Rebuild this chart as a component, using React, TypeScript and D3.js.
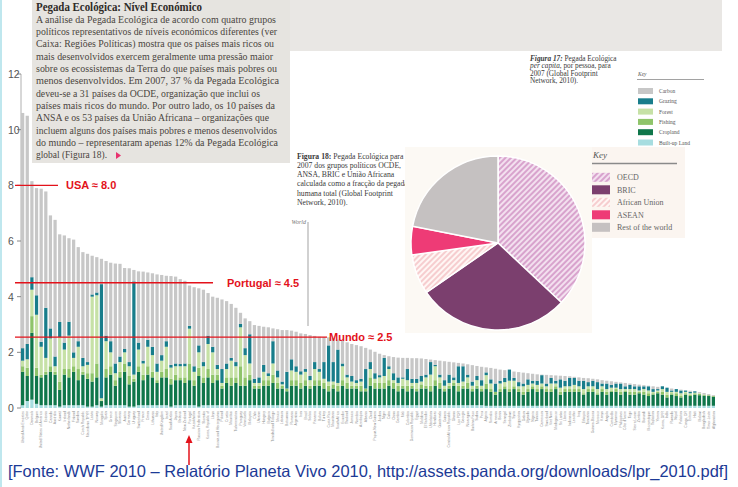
import React from 'react';
import * as d3 from 'd3';

const countries = [
  'United Arab Emirates','Qatar','Denmark','Belgium','United States of America','Estonia','Canada','Australia','Kuwait','Ireland',
  'Netherlands','Finland','Sweden','Czech Republic','Macedonia TFYR','Latvia','Norway','Mongolia','Spain','Greece',
  'Singapore','Slovenia','Austria','Germany','Uruguay','Switzerland','France','Oman','Lithuania','Italy',
  'United Kingdom','Israel','Saudi Arabia','Japan','Belarus','New Zealand','Portugal','Kazakhstan','Russian Federation','Slovakia',
  'Korea, Republic of','Libya','Bosnia and Herzegovina','Poland','Croatia','Mauritius','Turkmenistan','Paraguay','Venezuela','Malaysia',
  'Chile','Ukraine','Hungary','Bulgaria','Trinidad and Tobago','Mexico','Lebanon','Botswana','Romania','Argentina',
  'Iran','Brazil','Serbia','Panama','Bolivia','Turkey','Costa Rica','Mauritania','South Africa','Ecuador',
  'Thailand','Jamaica','Namibia','Azerbaijan','Albania','Chad','Papua New Guinea','Jordan','Niger','Cuba',
  'China','Gambia','Mali','Colombia','Dominican Republic','Egypt','Moldova','El Salvador','Uzbekistan','Honduras',
  'Guatemala','Guinea','Central African Republic','Ghana','Lao PDR','Georgia','Nicaragua','Burkina Faso','Sudan','Peru',
  'Algeria','Somalia','Armenia','Benin','Senegal','Zimbabwe','Syria','Kyrgyzstan','Gabon','Uganda',
  'Nigeria','Tunisia','Cameroon','Swaziland','Viet Nam','Madagascar','Sri Lanka','Liberia','Indonesia','Lesotho',
  'Iraq','Ethiopia','Tanzania','Guinea-Bissau','Morocco','Kenya','Angola','Cambodia','Myanmar','Philippines',
  "Côte d'Ivoire",'Togo','Sierra Leone','Zambia','Burundi','Mozambique','Tajikistan','Yemen','Korea, DPR','India',
  'Rwanda','Nepal','Pakistan','Congo, DR','Eritrea','Haiti','Malawi','Bangladesh','Timor-Leste','Afghanistan'
];

const totalFootprint = [
  10.6, 10.5, 8.15, 7.9, 7.88, 7.78, 6.92, 6.76, 6.24, 6.2,
  6.1, 6.05, 5.78, 5.6, 5.54, 5.47, 5.42, 5.36, 5.28, 5.22,
  5.19, 5.18, 5.03, 5.02, 4.96, 4.91, 4.9, 4.87, 4.84, 4.8,
  4.78, 4.75, 4.74, 4.72, 4.63, 4.57, 4.4, 4.34, 4.3, 4.25,
  4.13, 4.0, 3.96, 3.9, 3.84, 3.74, 3.6, 3.42, 3.22, 3.12,
  2.98, 2.95, 2.92, 2.9, 2.86, 2.83, 2.8, 2.8, 2.78, 2.74,
  2.68, 2.66, 2.62, 2.59, 2.56, 2.55, 2.54, 2.5, 2.46, 2.42,
  2.36, 2.3, 2.26, 2.22, 2.16, 2.1, 2.02, 1.95, 1.9, 1.86,
  1.83, 1.81, 1.8, 1.8, 1.79, 1.79, 1.78, 1.76, 1.74, 1.72,
  1.7, 1.68, 1.66, 1.64, 1.62, 1.6, 1.57, 1.54, 1.51, 1.48,
  1.46, 1.44, 1.41, 1.38, 1.36, 1.34, 1.31, 1.29, 1.27, 1.25,
  1.23, 1.21, 1.2, 1.19, 1.18, 1.17, 1.16, 1.15, 1.14, 1.12,
  1.1, 1.08, 1.07, 1.05, 1.03, 1.0, 0.98, 0.96, 0.94, 0.92,
  0.9, 0.88, 0.86, 0.84, 0.82, 0.8, 0.78, 0.76, 0.74, 0.72,
  0.7, 0.68, 0.66, 0.64, 0.62, 0.6, 0.57, 0.54, 0.5, 0.46
];

const builtUp = [
  0.1, 0.25, 0.3, 0.15, 0.1, 0.1, 0.1, 0.1, 0.05, 0.1,
  0.1, 0.1, 0.1, 0.1, 0.05, 0.05, 0.1, 0.05, 0.1, 0.1,
  0.1, 0.1, 0.1, 0.05, 0.05, 0.1, 0.1, 0.1, 0.1, 0.1,
  0.1, 0.1, 0.05, 0.1, 0.1, 0.1, 0.1, 0.1, 0.05, 0.1,
  0.1, 0.1, 0.1, 0.1, 0.1, 0.1, 0.1, 0.1, 0.1, 0.1,
  0.1, 0.1, 0.1, 0.1, 0.1, 0.1, 0.1, 0.1, 0.1, 0.1,
  0.1, 0.1, 0.1, 0.1, 0.1, 0.1, 0.1, 0.1, 0.1, 0.1,
  0.1, 0.1, 0.1, 0.1, 0.1, 0.1, 0.1, 0.1, 0.1, 0.1,
  0.1, 0.1, 0.1, 0.1, 0.1, 0.1, 0.1, 0.1, 0.1, 0.1,
  0.1, 0.1, 0.1, 0.1, 0.1, 0.1, 0.1, 0.1, 0.1, 0.1,
  0.08, 0.08, 0.08, 0.08, 0.08, 0.08, 0.08, 0.08, 0.08, 0.08,
  0.08, 0.08, 0.08, 0.08, 0.08, 0.08, 0.08, 0.08, 0.08, 0.08,
  0.08, 0.08, 0.08, 0.08, 0.08, 0.08, 0.08, 0.08, 0.08, 0.08,
  0.08, 0.08, 0.08, 0.08, 0.08, 0.08, 0.08, 0.08, 0.08, 0.08,
  0.08, 0.08, 0.08, 0.08, 0.08, 0.08, 0.08, 0.08, 0.08, 0.08
];

const cropland = [
  1.2, 0.9, 2.4, 1.0, 1.0, 1.1, 1.2, 1.1, 0.6, 1.1,
  1.0, 1.2, 0.9, 1.1, 1.0, 0.9, 1.0, 0.2, 1.0, 1.1,
  0.7, 1.0, 1.2, 0.8, 0.9, 1.2, 0.9, 1.1, 1.0, 0.8,
  1.0, 1.0, 0.8, 0.9, 0.9, 0.8, 0.9, 0.7, 1.1, 0.8,
  1.0, 0.8, 0.9, 0.6, 0.8, 0.7, 0.8, 0.7, 0.7, 0.9,
  0.6, 0.6, 0.7, 0.7, 0.8, 0.6, 0.6, 0.5, 0.7, 0.7,
  0.6, 0.7, 0.6, 0.7, 0.7, 0.6, 0.5, 0.6, 0.5, 0.7,
  0.6, 0.6, 0.6, 0.5, 0.5, 0.7, 0.6, 0.6, 0.6, 0.7,
  0.6, 0.5, 0.6, 0.5, 0.6, 0.5, 0.6, 0.6, 0.5, 0.7,
  0.6, 0.5, 0.6, 0.7, 0.5, 0.6, 0.6, 0.5, 0.6, 0.5,
  0.6, 0.5, 0.4, 0.5, 0.6, 0.5, 0.6, 0.5, 0.4, 0.5,
  0.6, 0.5, 0.6, 0.5, 0.5, 0.6, 0.4, 0.5, 0.5, 0.5,
  0.5, 0.4, 0.5, 0.5, 0.4, 0.5, 0.4, 0.5, 0.5, 0.4,
  0.5, 0.4, 0.4, 0.45, 0.4, 0.35, 0.4, 0.45, 0.4, 0.3,
  0.4, 0.35, 0.3, 0.4, 0.35, 0.4, 0.38, 0.36, 0.35, 0.32
];

const fishing = [
  0.2, 0.3, 0.6, 0.3, 0.1, 0.1, 0.2, 0.1, 0.3, 0.2,
  0.3, 0.2, 0.4, 0.1, 0.2, 0.3, 0.5, 0.0, 0.3, 0.3,
  0.2, 0.2, 0.3, 0.3, 0.1, 0.2, 0.2, 0.3, 0.2, 0.1,
  0.2, 0.3, 0.2, 0.2, 0.1, 0.2, 0.6, 0.2, 0.3, 0.2,
  0.3, 0.3, 0.2, 0.1, 0.2, 0.3, 0.2, 0.7, 0.3, 0.2,
  0.1, 0.1, 0.2, 0.2, 0.3, 0.2, 0.1, 0.1, 0.2, 0.2,
  0.2, 0.2, 0.1, 0.2, 0.2, 0.2, 0.2, 0.15, 0.2, 0.2,
  0.2, 0.1, 0.1, 0.2, 0.1, 0.3, 0.2, 0.2, 0.2, 0.2,
  0.2, 0.2, 0.1, 0.2, 0.1, 0.1, 0.15, 0.1, 0.2, 0.2,
  0.2, 0.1, 0.1, 0.1, 0.2, 0.1, 0.2, 0.1, 0.1, 0.1,
  0.2, 0.1, 0.1, 0.1, 0.1, 0.1, 0.1, 0.1, 0.1, 0.1,
  0.1, 0.1, 0.1, 0.1, 0.1, 0.1, 0.1, 0.1, 0.1, 0.1,
  0.1, 0.05, 0.1, 0.1, 0.05, 0.1, 0.1, 0.05, 0.1, 0.1,
  0.05, 0.1, 0.1, 0.05, 0.1, 0.1, 0.05, 0.05, 0.1, 0.1,
  0.05, 0.1, 0.05, 0.05, 0.05, 0.05, 0.05, 0.04, 0.03, 0.03
];

const forest = [
  0.2, 0.3, 0.95, 1.9, 1.0, 0.5, 1.0, 0.2, 1.6, 0.7,
  1.2, 0.3, 0.8, 0.2, 0.3, 2.75, 2.45, 0.1, 1.0, 0.5,
  0.25, 0.35, 0.4, 0.35, 0.15, 0.6, 0.4, 0.7, 0.6, 0.3,
  0.4, 0.8, 0.4, 0.3, 0.4, 0.4, 1.25, 0.3, 0.55, 0.4,
  0.9, 0.8, 0.2, 0.1, 0.3, 0.6, 0.4, 1.4, 0.8, 0.4,
  0.1, 0.1, 0.3, 0.15, 0.4, 0.2, 0.05, 0.0, 0.35, 0.3,
  0.3, 0.3, 0.2, 0.4, 0.3, 0.15, 0.15, 0.1, 0.1, 0.5,
  0.2, 0.15, 0.1, 0.15, 0.0, 0.3, 0.15, 0.2, 0.25, 0.4,
  0.1, 0.1, 0.25, 0.2, 0.1, 0.2, 0.1, 0.3, 0.4, 0.5,
  0.2, 0.1, 0.1, 0.1, 0.1, 0.15, 0.2, 0.1, 0.2, 0.1,
  0.3, 0.2, 0.0, 0.2, 0.15, 0.3, 0.2, 0.1, 0.2, 0.15,
  0.1, 0.15, 0.1, 0.1, 0.2, 0.1, 0.15, 0.1, 0.1, 0.15,
  0.1, 0.15, 0.1, 0.1, 0.15, 0.1, 0.1, 0.1, 0.05, 0.1,
  0.05, 0.1, 0.1, 0.05, 0.1, 0.1, 0.05, 0.05, 0.1, 0.1,
  0.05, 0.05, 0.1, 0.05, 0.05, 0.02, 0.02, 0.0, 0.0, 0.0
];

const grazing = [
  0.45, 0.55, 0.45, 0.7, 0.18, 1.8, 0.36, 0.35, 0.54, 0.25,
  0.5, 0.2, 0.2, 0.3, 0.1, 0.08, 0.1, 4.1, 0.2, 0.4,
  0.35, 0.2, 0.12, 0.15, 3.35, 0.25, 0.1, 0.25, 0.3, 0.3,
  0.2, 0.2, 0.1, 0.1, 0.08, 0.1, 0.1, 0.2, 0.25, 0.15,
  0.3, 0.2, 0.15, 0.5, 0.2, 0.1, 0.15, 0.12, 0.25, 1.05,
  0.15, 0.2, 0.25, 0.1, 0.8, 0.25, 0.1, 0.6, 0.4, 0.2,
  0.12, 0.1, 0.15, 0.25, 0.1, 0.6, 1.3, 0.7, 1.2, 0.1,
  0.1, 0.2, 0.1, 0.1, 0.7, 0.25, 0.2, 0.08, 0.65, 0.1,
  0.25, 0.2, 0.05, 0.4, 0.15, 0.15, 0.2, 0.1, 0.45, 0.05,
  0.1, 0.2, 0.3, 0.1, 0.6, 0.55, 0.1, 0.15, 0.15, 0.2,
  0.1, 0.15, 0.3, 0.1, 0.15, 0.4, 0.1, 0.15, 0.1, 0.2,
  0.1, 0.15, 0.3, 0.1, 0.2, 0.1, 0.3, 0.2, 0.3, 0.25,
  0.2, 0.3, 0.15, 0.2, 0.25, 0.1, 0.2, 0.1, 0.15, 0.2,
  0.1, 0.15, 0.1, 0.15, 0.1, 0.15, 0.1, 0.05, 0.1, 0.15,
  0.05, 0.1, 0.1, 0.05, 0.05, 0.05, 0.0, 0.0, 0.0, 0.0
];

const yTicks = [0, 2, 4, 6, 8, 10, 12];

const layerKeys = ['builtUp', 'cropland', 'fishing', 'forest', 'grazing', 'carbon'];
const layerColors: Record<string, string> = {
  builtUp: '#a7dde0',
  cropland: '#0f764a',
  fishing: '#8fc46a',
  forest: '#c6e1a6',
  grazing: '#187d8b',
  carbon: '#c7c7c7',
};
const keyLabels17 = ['Carbon', 'Grazing', 'Forest', 'Fishing', 'Cropland', 'Built-up Land'];
const keyOrder17 = ['carbon', 'grazing', 'forest', 'fishing', 'cropland', 'builtUp'];

const pieGroups = ['OECD', 'BRIC', 'African Union', 'ASEAN', 'Rest of the world'];
const pieShares = [37, 28.4, 7.4, 5.3, 21.9];
const pieFills = ['url(#hatchOecd)', '#7b3f6e', 'url(#hatchAU)', '#ee3b76', '#c5c1c1'];

const refLabels = ['USA ≈ 8.0', 'Portugal ≈ 4.5', 'Mundo ≈ 2.5'];
const refValues = [8.0, 4.5, 2.55];

const introTitle = 'Pegada Ecológica: Nível Económico';
const introLines = [
  'A análise da Pegada Ecológica de acordo com quatro grupos',
  'políticos representativos de níveis económicos diferentes (ver',
  'Caixa: Regiões Políticas) mostra que os países mais ricos ou',
  'mais desenvolvidos exercem geralmente uma pressão maior',
  'sobre os ecossistemas da Terra do que países mais pobres ou',
  'menos desenvolvidos. Em 2007, 37 % da Pegada Ecológica',
  'deveu-se a 31 países da OCDE, organização que inclui os',
  'países mais ricos do mundo. Por outro lado, os 10 países da',
  'ANSA e os 53 países da União Africana – organizações que',
  'incluem alguns dos países mais pobres e menos desenvolvidos',
  'do mundo – representaram apenas 12% da Pegada Ecológica',
  'global (Figura 18).',
];

const fig18Lines = [
  'ANSA, BRIC e União Africana',
  'calculada como a fracção da pegada',
  'humana total (Global Footprint',
  'Network, 2010).',
];

const sourceText = '[Fonte: WWF 2010 – Relatório Planeta Vivo 2010, http://assets.panda.org/downloads/lpr_2010.pdf]';

export default function App() {
  const rows = countries.map((c, i) => {
    const others = builtUp[i] + cropland[i] + fishing[i] + forest[i] + grazing[i];
    return {
      country: c,
      builtUp: builtUp[i],
      cropland: cropland[i],
      fishing: fishing[i],
      forest: forest[i],
      grazing: grazing[i],
      carbon: Math.max(0, totalFootprint[i] - others),
    };
  });

  const x = d3.scaleBand<string>().domain(countries).range([21, 715]).paddingInner(0.3).paddingOuter(0);
  const y = d3.scaleLinear().domain([0, 12]).range([408, 74]);
  const series = d3.stack<any>().keys(layerKeys)(rows);

  const pie = d3.pie<number>().sort(null).value((d) => d)(pieShares);
  const arc = d3.arc<d3.PieArcDatum<number>>().innerRadius(0).outerRadius(87);

  const introWidths = [240, 241, 238, 237, 241, 243, 224, 239, 233, 241, 242, 71];
  const serif = "'Liberation Serif', 'DejaVu Serif', serif";
  const sans = "'Liberation Sans', Arial, sans-serif";
  const refLineEnds = [58, 213, 327];
  const refTextX = [66, 227, 329];
  const worldX = 308;

  return (
    <svg width={738} height={487} style={{ position: 'absolute', left: 0, top: 0, background: '#fff' }}>
      <defs>
        <pattern id="hatchOecd" patternUnits="userSpaceOnUse" width="4" height="4" patternTransform="rotate(45)">
          <rect width="4" height="4" fill="#f3e0ef" />
          <rect width="2" height="4" fill="#d8a3cd" />
        </pattern>
        <pattern id="hatchAU" patternUnits="userSpaceOnUse" width="4" height="4" patternTransform="rotate(45)">
          <rect width="4" height="4" fill="#fff6f4" />
          <rect width="2" height="4" fill="#f6cdcf" />
        </pattern>
      </defs>
      <rect x={0} y={0} width={738} height={487} fill="#fff" />
      <rect x={0} y={0} width={2} height={487} fill="#bfe7ee" />

      {/* grey text box and top band */}
      <rect x={32} y={0} width={258} height={163} fill="#e6e4e0" />
      <rect x={290} y={0} width={432} height={51} fill="#e9e7e4" />
      <text x={36} y={11} fontFamily={serif} fontSize={11.5} fontWeight="bold" fill="#2e2b28" textLength={166} lengthAdjust="spacingAndGlyphs">{introTitle}</text>
      {introLines.map((t, i) => (
        <text key={i} x={36} y={22.8 + i * 12.3} fontFamily={serif} fontSize={10.5} fill="#4a443e" textLength={introWidths[i]} lengthAdjust="spacingAndGlyphs">{t}</text>
      ))}
      <path d="M116,152 L121,155.5 L116,159 Z" fill="#e8336f" />

      {/* y axis */}
      <line x1={21} x2={21} y1={y(12)} y2={y(0)} stroke="#b0b0b0" strokeWidth={1} />
      {yTicks.map((t) => (
        <g key={t}>
          <line x1={17} x2={21} y1={y(t)} y2={y(t)} stroke="#888" strokeWidth={1} />
          <text x={8} y={y(t) + 4} fontFamily={sans} fontSize={10.5} fill="#555">{t}</text>
        </g>
      ))}

      {/* stacked bars */}
      {series.map((s) => (
        <g key={s.key} fill={layerColors[s.key]}>
          {s.map((d, i) => (
            <rect key={i} x={x(countries[i])} width={x.bandwidth()} y={y(d[1])} height={Math.max(0, y(d[0]) - y(d[1]))} />
          ))}
        </g>
      ))}

      {/* country labels */}
      {countries.map((c) => (
        <text key={c} transform={`translate(${(x(c) as number) + x.bandwidth() / 2 + 1.2},411) rotate(-90)`} textAnchor="end" fontFamily={sans} fontSize={3.4} fill="#8f8f8f">{c}</text>
      ))}

      {/* World marker */}
      <line x1={worldX} x2={worldX} y1={222} y2={y(2.95)} stroke="#c2c2c2" strokeWidth={1.5} />
      <text x={306} y={224} textAnchor="end" fontFamily={serif} fontStyle="italic" fontSize={6} fill="#777">World</text>

      {/* Figure 18 caption */}
      <text x={297} y={158.5} fontFamily={serif} fontSize={7.7} fill="#3a3a3a">
        <tspan fontWeight="bold">Figura 18:</tspan> Pegada Ecológica para
      </text>
      <text x={297} y={167.8} fontFamily={serif} fontSize={7.7} fill="#3a3a3a">2007 dos grupos políticos OCDE,</text>
      {fig18Lines.map((t, i) => (
        <text key={i} x={297} y={177.1 + i * 9.3} fontFamily={serif} fontSize={7.7} fill="#3a3a3a">{t}</text>
      ))}

      {/* pie panel */}
      <rect x={405} y={147} width={187} height={186} fill="#fcf9f4" />
      <rect x={592} y={147} width={93} height={91} fill="#fbf5f0" />
      <g transform="translate(498,243)">
        {pie.map((p, i) => (
          <path key={i} d={arc(p) as string} fill={pieFills[i]} stroke="#fff" strokeWidth={1.5} />
        ))}
      </g>
      <text x={593} y={158} fontFamily={serif} fontStyle="italic" fontSize={9} fill="#555">Key</text>
      <line x1={592} x2={677} y1={163.5} y2={163.5} stroke="#8a8a8a" strokeWidth={1.5} />
      {pieGroups.map((g, i) => (
        <g key={g}>
          <rect x={592} y={172.8 + i * 12.5} width={18} height={9} fill={pieFills[i]} />
          <text x={617} y={180.3 + i * 12.5} fontFamily={serif} fontSize={8} fill="#666">{g}</text>
        </g>
      ))}

      {/* Figure 17 caption + key */}
      <text x={530} y={60.5} fontFamily={serif} fontSize={7.3} fill="#3a3a3a">
        <tspan fontWeight="bold" fontStyle="italic">Figura 17:</tspan> Pegada Ecológica
      </text>
      <text x={530} y={68} fontFamily={serif} fontSize={7.3} fill="#3a3a3a">
        <tspan fontStyle="italic">per capita</tspan>, por pessoa, para
      </text>
      <text x={530} y={75.5} fontFamily={serif} fontSize={7.3} fill="#3a3a3a">2007 (Global Footprint</text>
      <text x={530} y={83} fontFamily={serif} fontSize={7.3} fill="#3a3a3a">Network, 2010).</text>
      <text x={638} y={76} fontFamily={serif} fontStyle="italic" fontSize={5.5} fill="#555">Key</text>
      <line x1={637} x2={704} y1={79.5} y2={79.5} stroke="#8a8a8a" strokeWidth={0.8} />
      {keyOrder17.map((k, i) => (
        <g key={k}>
          <rect x={638} y={88 + i * 10.3} width={15} height={6} fill={layerColors[k]} />
          <text x={659} y={93 + i * 10.3} fontFamily={serif} fontSize={5.5} fill="#555">{keyLabels17[i]}</text>
        </g>
      ))}

      {/* red reference annotations */}
      {refValues.map((v, i) => (
        <g key={i}>
          <line x1={15} x2={refLineEnds[i]} y1={y(v)} y2={y(v)} stroke="#e3121b" strokeWidth={1.3} />
          <text x={refTextX[i]} y={y(v) + 4} fontFamily={sans} fontWeight="bold" fontSize={11} fill="#e3121b">{refLabels[i]}</text>
        </g>
      ))}
      <line x1={189} x2={189} y1={465} y2={442} stroke="#e3121b" strokeWidth={1.5} />
      <path d="M185.5,443 L189,435 L192.5,443 Z" fill="#e3121b" />

      {/* source */}
      <text x={8} y={477} fontFamily={sans} fontSize={16.5} fill="#1c3a96" textLength={720} lengthAdjust="spacingAndGlyphs">{sourceText}</text>
    </svg>
  );
}
